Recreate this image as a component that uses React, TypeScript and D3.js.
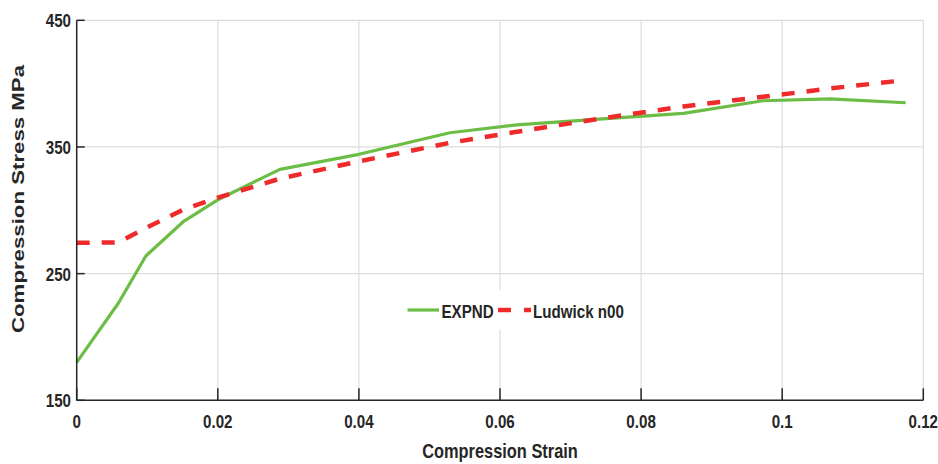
import React from "react";
import * as d3 from "d3";

const strainExp = [0, 0.0059, 0.0098, 0.0151, 0.02, 0.0288, 0.04, 0.0529, 0.0624, 0.074, 0.086, 0.0973, 0.1068, 0.1175];
const stressExp = [180, 226.6, 263.9, 291, 308.3, 332.3, 344.2, 361.2, 367.5, 372, 376.5, 386.5, 388, 384.9];
const strainLud = [0, 0.0059, 0.0098, 0.0151, 0.02, 0.0288, 0.04, 0.0529, 0.0624, 0.074, 0.086, 0.0973, 0.1068, 0.117];
const stressLud = [274.4, 274.6, 286, 300.5, 310, 325, 338.6, 353.3, 362, 372.2, 382, 389.6, 396.2, 402.5];
const xTicks = [0, 0.02, 0.04, 0.06, 0.08, 0.1, 0.12];
const yTicks = [150, 250, 350, 450];
const yGrid = [150, 250, 350, 450];
const legendLabels = ["EXPND", "Ludwick n00"];

const W = 938, H = 464;
const L = 76.7, R = 923.3, T = 20.3, B = 400.3;
const GREEN = "#6cbd45";
const RED = "#ee2a2a";
const FONT = "'Liberation Sans', Arial, sans-serif";
const SX = 0.82;

function NText(props: { x: number; y: number; anchor?: "start" | "middle" | "end"; size: number; children: React.ReactNode }) {
  const { x, y, anchor = "start", size, children } = props;
  return (
    <text
      transform={`translate(${x},${y}) scale(${SX},1)`}
      textAnchor={anchor}
      fontFamily={FONT}
      fontWeight="bold"
      fontSize={size}
      fill="#262626"
    >
      {children}
    </text>
  );
}

export default function App() {
  const x = d3.scaleLinear().domain([0, 0.12]).range([L, R]);
  const y = d3.scaleLinear().domain([150, 450]).range([B, T]);
  const line = d3.line<[number, number]>().x(d => x(d[0])).y(d => y(d[1]));
  const expPts: [number, number][] = strainExp.map((s, i) => [s, stressExp[i]]);
  const ludPts: [number, number][] = strainLud.map((s, i) => [s, stressLud[i]]);
  const tickFmt = (v: number) => (v === 0 ? "0" : String(+v.toFixed(2)));

  return (
    <svg width={W} height={H} style={{ position: "absolute", left: 0, top: 0, background: "#fff" }}>
      <rect x={0} y={0} width={W} height={H} fill="#fff" />
      {xTicks.map(t => (
        <line key={"gx" + t} x1={x(t)} x2={x(t)} y1={T} y2={B} stroke="#dcdcdc" strokeWidth={1.2} />
      ))}
      {yGrid.map(t => (
        <line key={"gy" + t} x1={L} x2={R} y1={y(t)} y2={y(t)} stroke="#dcdcdc" strokeWidth={1.2} />
      ))}
      <path d={line(expPts) || ""} fill="none" stroke={GREEN} strokeWidth={3.2} strokeLinejoin="round" />
      <path d={line(ludPts) || ""} fill="none" stroke={RED} strokeWidth={4.5} strokeDasharray="13,12" />
      <line x1={L} x2={R} y1={B} y2={B} stroke="#262626" strokeWidth={1.5} />
      <line x1={L} x2={L} y1={T} y2={B} stroke="#262626" strokeWidth={1.5} />
      {xTicks.map(t => (
        <g key={"xt" + t}>
          <line x1={x(t)} x2={x(t)} y1={B} y2={B - 12} stroke="#262626" strokeWidth={1.5} />
          <NText x={x(t)} y={427.5} anchor="middle" size={18.5}>{tickFmt(t)}</NText>
        </g>
      ))}
      {yTicks.map(t => (
        <g key={"yt" + t}>
          <line x1={L} x2={L + 8} y1={y(t)} y2={y(t)} stroke="#262626" strokeWidth={1.5} />
          <NText x={71} y={y(t) + 7} anchor="end" size={18.5}>{t}</NText>
        </g>
      ))}
      <NText x={500} y={458} anchor="middle" size={20}>Compression Strain</NText>
      <text
        transform="translate(24,199) rotate(-90)"
        textAnchor="middle"
        fontFamily={FONT}
        fontWeight="bold"
        fontSize={17}
        textLength={268}
        lengthAdjust="spacingAndGlyphs"
        fill="#262626"
      >
        Compression Stress MPa
      </text>
      <rect x={404} y={290} width={224} height={40} fill="#fff" />
      <line x1={407.5} x2={439} y1={310} y2={310} stroke={GREEN} strokeWidth={3.2} />
      <NText x={441.5} y={317.5} size={18.5}>{legendLabels[0]}</NText>
      <line x1={498} x2={531} y1={310} y2={310} stroke={RED} strokeWidth={4.5} strokeDasharray="13,13" />
      <NText x={533} y={317.5} size={18.5}>{legendLabels[1]}</NText>
    </svg>
  );
}
